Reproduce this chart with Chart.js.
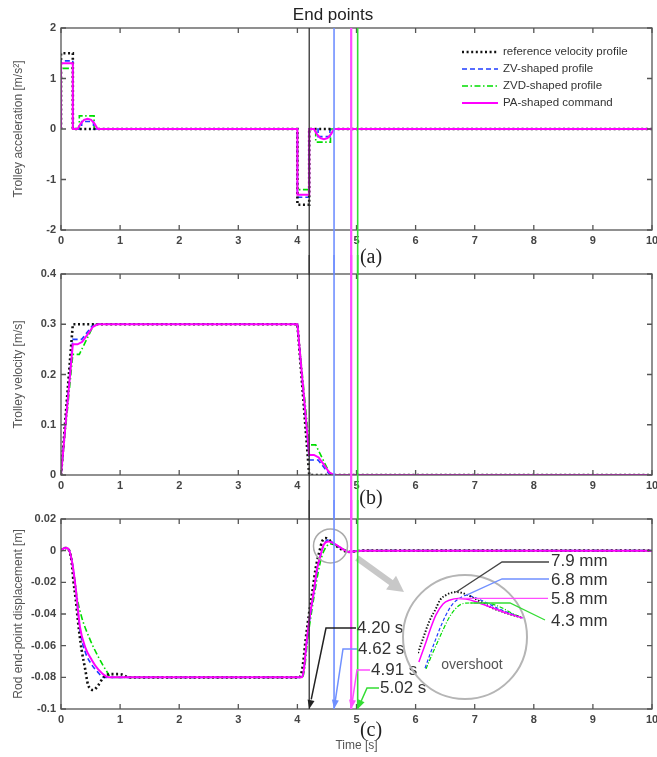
<!DOCTYPE html>
<html>
<head>
<meta charset="utf-8">
<script src="https://cdn.jsdelivr.net/npm/chart.js@4.4.1/dist/chart.umd.min.js"></script>
<style>
  body { margin: 0; background: #fff; }
  #wrap { position: relative; width: 657px; height: 757px; overflow: hidden; background: #fff; }
  canvas { position: absolute; left: 0; }
</style>
</head>
<body>
<div id="wrap">
  <canvas id="accChart" width="657" height="275" style="top:0px"></canvas>
  <canvas id="velChart" width="657" height="265" style="top:255px"></canvas>
  <canvas id="dispChart" width="657" height="257" style="top:500px"></canvas>
  <canvas id="insetChart" width="220" height="160" style="top:545px;left:400px"></canvas>
</div>
<script>
// ticks
const timeTicks = [0, 1, 2, 3, 4, 5, 6, 7, 8, 9, 10];
const accTicks = [-2, -1, 0, 1, 2];
const velTicks = [0, 0.1, 0.2, 0.3, 0.4];
const dispTicks = [-0.1, -0.08, -0.06, -0.04, -0.02, 0, 0.02];

const seriesNames = ['reference velocity profile', 'ZV-shaped profile', 'ZVD-shaped profile', 'PA-shaped command'];

// (a) trolley acceleration [m/s^2]
const accRefT = [0, 0, 0.2, 0.2, 4.0, 4.0, 4.2, 4.2, 10];
const accRefV = [0, 1.5, 1.5, 0, 0, -1.5, -1.5, 0, 0];
const accZvT = [0, 0, 0.2, 0.2, 0.35, 0.35, 0.55, 0.55, 4.0, 4.0, 4.2, 4.2, 4.35, 4.35, 4.55, 4.55, 10];
const accZvV = [0, 1.35, 1.35, 0, 0, 0.15, 0.15, 0, 0, -1.35, -1.35, 0, 0, -0.15, -0.15, 0, 0];
const accZvdT = [0, 0, 0.2, 0.2, 0.31, 0.31, 0.56, 0.56, 4.0, 4.0, 4.2, 4.2, 4.31, 4.31, 4.56, 4.56, 10];
const accZvdV = [0, 1.2, 1.2, 0, 0, 0.26, 0.26, 0, 0, -1.2, -1.2, 0, 0, -0.26, -0.26, 0, 0];
const accPaT = [0, 0, 0.2, 0.2, 0.28, 0.33, 0.39, 0.45, 0.51, 0.57, 0.62, 4.0, 4.0, 4.2, 4.2, 4.28, 4.33, 4.39, 4.45, 4.51, 4.57, 4.62, 10];
const accPaV = [0, 1.3, 1.3, 0, 0, 0.1, 0.18, 0.2, 0.18, 0.1, 0, 0, -1.3, -1.3, 0, 0, -0.1, -0.18, -0.2, -0.18, -0.1, 0, 0];

// (b) trolley velocity [m/s]
const velRefT = [0, 0.2, 4.0, 4.2, 10];
const velRefV = [0, 0.3, 0.3, 0, 0];
const velZvT = [0, 0.2, 0.35, 0.55, 4.0, 4.2, 4.35, 4.55, 10];
const velZvV = [0, 0.27, 0.27, 0.3, 0.3, 0.03, 0.03, 0, 0];
const velZvdT = [0, 0.2, 0.31, 0.56, 4.0, 4.2, 4.31, 4.56, 10];
const velZvdV = [0, 0.24, 0.24, 0.3, 0.3, 0.06, 0.06, 0, 0];
const velPaT = [0, 0.2, 0.28, 0.36, 0.45, 0.54, 0.62, 4.0, 4.2, 4.28, 4.36, 4.45, 4.54, 4.62, 10];
const velPaV = [0, 0.26, 0.26, 0.265, 0.28, 0.295, 0.3, 0.3, 0.04, 0.04, 0.035, 0.02, 0.005, 0, 0];

// (c) rod end-point displacement [m]
const dispRefT = [0, 0.05, 0.1, 0.18, 0.21, 0.25, 0.28, 0.31, 0.35, 0.41, 0.46, 0.55, 0.63, 0.72, 0.83, 1.0, 1.15, 4.03, 4.07, 4.1, 4.14, 4.2, 4.26, 4.31, 4.37, 4.42, 4.48, 4.56, 4.66, 4.76, 4.86, 4.95, 5.1, 10];
const dispRefV = [0, 0.0015, 0.0017, -0.007, -0.019, -0.031, -0.042, -0.052, -0.063, -0.075, -0.085, -0.088, -0.085, -0.08, -0.078, -0.078, -0.08, -0.08, -0.077, -0.07, -0.056, -0.039, -0.024, -0.011, -0.001, 0.006, 0.0079, 0.006, 0.003, 0.0005, -0.0008, -0.0005, 0, 0];
const dispZvT = [0, 0.05, 0.1, 0.15, 0.2, 0.24, 0.27, 0.32, 0.41, 0.52, 0.63, 0.72, 0.85, 4.07, 4.11, 4.16, 4.22, 4.28, 4.33, 4.39, 4.45, 4.52, 4.6, 4.7, 4.8, 4.88, 4.96, 5.1, 10];
const dispZvV = [0, 0.0015, 0.0017, -0.001, -0.01, -0.021, -0.032, -0.05, -0.064, -0.072, -0.077, -0.08, -0.08, -0.08, -0.075, -0.057, -0.04, -0.026, -0.013, -0.003, 0.004, 0.0068, 0.005, 0.0025, 0.0002, -0.0008, -0.0004, 0, 0];
const dispZvdT = [0, 0.05, 0.1, 0.15, 0.2, 0.24, 0.27, 0.35, 0.49, 0.63, 0.77, 0.85, 4.08, 4.12, 4.17, 4.23, 4.29, 4.35, 4.41, 4.48, 4.56, 4.64, 4.72, 4.82, 4.9, 5.0, 5.1, 10];
const dispZvdV = [0, 0.0015, 0.0017, -0.001, -0.01, -0.02, -0.029, -0.042, -0.056, -0.067, -0.076, -0.08, -0.08, -0.075, -0.057, -0.041, -0.027, -0.014, -0.004, 0.002, 0.0043, 0.0035, 0.002, 0.0003, -0.0007, -0.0003, 0, 0];
const dispPaT = [0, 0.05, 0.1, 0.15, 0.2, 0.24, 0.27, 0.32, 0.41, 0.52, 0.63, 0.77, 0.85, 4.08, 4.11, 4.16, 4.22, 4.28, 4.33, 4.39, 4.45, 4.53, 4.62, 4.72, 4.8, 4.88, 4.96, 5.1, 10];
const dispPaV = [0, 0.0015, 0.0017, -0.001, -0.01, -0.021, -0.031, -0.048, -0.061, -0.069, -0.075, -0.0795, -0.08, -0.08, -0.075, -0.056, -0.039, -0.025, -0.012, -0.003, 0.004, 0.0058, 0.0045, 0.0022, 0.0003, -0.0008, -0.0004, 0, 0];

// overshoot close-up (time [s], displacement [mm])
const insRefT = [4.36, 4.38, 4.40, 4.42, 4.435, 4.455, 4.475, 4.49, 4.51, 4.55, 4.605, 4.66, 4.715];
const insRefV = [-12.1, -6.5, -1.3, 2.3, 5.3, 6.9, 7.7, 7.9, 7.6, 5.9, 3.0, 1.0, -0.6];
const insZvT = [4.384, 4.40, 4.418, 4.435, 4.455, 4.475, 4.50, 4.523, 4.547, 4.577, 4.622, 4.672, 4.715];
const insZvV = [-17.0, -12.7, -8.1, -3.9, 0.4, 3.65, 5.8, 6.8, 6.3, 5.1, 3.0, 0.9, -0.6];
const insZvdT = [4.387, 4.404, 4.425, 4.445, 4.465, 4.486, 4.509, 4.537, 4.571, 4.605, 4.639, 4.679, 4.715];
const insZvdV = [-17.3, -13.4, -8.8, -4.5, -0.6, 2.3, 4.0, 4.3, 4.3, 4.1, 3.0, 1.0, -0.6];
const insPaT = [4.363, 4.384, 4.401, 4.421, 4.445, 4.469, 4.496, 4.523, 4.554, 4.605, 4.662, 4.715];
const insPaV = [-15.0, -9.4, -4.5, 0.4, 4.0, 5.3, 5.8, 5.6, 4.8, 3.0, 1.0, -0.6];

// end points [s]: reference, ZV, PA, ZVD
const endTimes = [4.20, 4.62, 4.91, 5.02];

const lineStyles = [
    { color: '#111111', width: 2.6, dash: [2, 2.6], order: 2 },
    { color: '#1f3dff', width: 1.6, dash: [5, 3], order: 3 },
    { color: '#00dd00', width: 1.6, dash: [6, 2.5, 1.5, 2.5], order: 4 },
    { color: '#ff00ff', width: 2, dash: [], order: 1 }
];
// lighter tones used for the annotation lines (series order)
const lightColors = ['#444444', '#7090ff', '#33dd33', '#ff4dff'];
// end point lines follow the order of endTimes
const endColors = ['#333333', '#7090ff', '#ff4dff', '#33dd33'];
const endWidths = [1.3, 1.6, 2.2, 1.6];

Chart.defaults.font.family = '"Liberation Sans", Arial, sans-serif';

function fmt(v) {
    return String(Number(Number(v).toFixed(2)));
}

function buildSets(tArrs, vArrs, smooth, thin) {
    return tArrs.map(function (ts, i) {
        const st = lineStyles[i];
        return {
            label: seriesNames[i],
            data: ts.map((t, k) => ({ x: t, y: vArrs[i][k] })),
            borderColor: st.color,
            borderWidth: thin ? st.width * 0.75 : st.width,
            borderDash: thin && st.dash.length ? st.dash.map(d => d * 0.7) : st.dash,
            order: st.order,
            pointRadius: 0,
            fill: false,
            tension: 0,
            cubicInterpolationMode: smooth ? 'monotone' : 'default'
        };
    });
}

function panelOptions(yTicks, yTitle, pad, xHeight, xTitle) {
    return {
        responsive: false,
        animation: false,
        events: [],
        layout: { padding: pad },
        plugins: { legend: { display: false }, tooltip: { enabled: false } },
        scales: {
            x: {
                type: 'linear',
                min: timeTicks[0],
                max: timeTicks[timeTicks.length - 1],
                grid: { display: false, drawTicks: false },
                border: { display: false },
                afterBuildTicks: s => { s.ticks = timeTicks.map(v => ({ value: v })); },
                afterFit: s => { s.height = xHeight; s.paddingLeft = 0; s.paddingRight = 0; },
                ticks: { padding: 4, color: '#444', font: { size: 11, weight: 'bold' }, maxRotation: 0, autoSkip: false, callback: fmt },
                title: xTitle ? { display: true, text: xTitle, color: '#555', font: { size: 12 }, padding: 0 } : { display: false }
            },
            y: {
                type: 'linear',
                min: yTicks[0],
                max: yTicks[yTicks.length - 1],
                grid: { display: false, drawTicks: false },
                border: { display: false },
                afterBuildTicks: s => { s.ticks = yTicks.map(v => ({ value: v })); },
                afterFit: s => { s.width = 61; s.paddingTop = 0; s.paddingBottom = 0; },
                ticks: { padding: 5, color: '#444', font: { size: 11, weight: 'bold' }, autoSkip: false, callback: fmt },
                title: { display: true, text: yTitle, color: '#555', font: { size: 12 }, padding: { top: 11, bottom: 0 } }
            }
        }
    };
}

function framePlugin(extra) {
    return {
        id: 'frame',
        afterDatasetsDraw(chart) {
            const ctx = chart.ctx, a = chart.chartArea, xs = chart.scales.x, ys = chart.scales.y;
            ctx.save();
            ctx.strokeStyle = '#555';
            ctx.lineWidth = 1.3;
            ctx.setLineDash([]);
            ctx.beginPath();
            xs.ticks.forEach(t => {
                const px = xs.getPixelForValue(t.value);
                ctx.moveTo(px, a.bottom); ctx.lineTo(px, a.bottom - 5);
                ctx.moveTo(px, a.top); ctx.lineTo(px, a.top + 5);
            });
            ys.ticks.forEach(t => {
                const py = ys.getPixelForValue(t.value);
                ctx.moveTo(a.left, py); ctx.lineTo(a.left + 5, py);
                ctx.moveTo(a.right, py); ctx.lineTo(a.right - 5, py);
            });
            ctx.stroke();
            ctx.strokeRect(a.left, a.top, a.right - a.left, a.bottom - a.top);
            ctx.restore();
            if (extra) {
                ctx.save();
                extra(chart, ctx, a);
                ctx.restore();
            }
        }
    };
}

function drawEndLines(chart, ctx, y0, y1) {
    const xs = chart.scales.x;
    endTimes.forEach(function (t, i) {
        const px = xs.getPixelForValue(t);
        ctx.strokeStyle = endColors[i];
        ctx.lineWidth = endWidths[i];
        ctx.setLineDash([]);
        ctx.beginPath();
        ctx.moveTo(px, y0);
        ctx.lineTo(px, y1);
        ctx.stroke();
    });
}

function arrowHead(ctx, x0, y0, x1, y1, len, w, color) {
    const ang = Math.atan2(y1 - y0, x1 - x0);
    const bx = x1 - len * Math.cos(ang), by = y1 - len * Math.sin(ang);
    ctx.fillStyle = color;
    ctx.beginPath();
    ctx.moveTo(x1, y1);
    ctx.lineTo(bx + w / 2 * Math.sin(ang), by - w / 2 * Math.cos(ang));
    ctx.lineTo(bx - w / 2 * Math.sin(ang), by + w / 2 * Math.cos(ang));
    ctx.closePath();
    ctx.fill();
}

function panelLabel(ctx, text, x, y) {
    ctx.fillStyle = '#222';
    ctx.font = '20px "Liberation Serif", "Times New Roman", serif';
    ctx.textAlign = 'center';
    ctx.textBaseline = 'middle';
    ctx.fillText(text, x, y);
}

// (a)
new Chart(document.getElementById('accChart'), {
    type: 'line',
    data: { datasets: buildSets([accRefT, accZvT, accZvdT, accPaT], [accRefV, accZvV, accZvdV, accPaV], false) },
    options: panelOptions(accTicks, 'Trolley acceleration [m/s²]', { top: 28, bottom: 25, left: 0, right: 5 }, 20, null),
    plugins: [framePlugin(function (chart, ctx, a) {
        drawEndLines(chart, ctx, a.top, chart.height);
        // legend
        ctx.font = '11.5px "Liberation Sans", Arial, sans-serif';
        ctx.textAlign = 'left';
        ctx.textBaseline = 'middle';
        seriesNames.forEach(function (name, i) {
            const y = 52 + i * 17;
            const st = lineStyles[i];
            ctx.strokeStyle = st.color;
            ctx.lineWidth = st.width;
            ctx.setLineDash(st.dash);
            ctx.beginPath();
            ctx.moveTo(462, y);
            ctx.lineTo(498, y);
            ctx.stroke();
            ctx.fillStyle = '#333';
            ctx.fillText(name, 503, y);
        });
        ctx.setLineDash([]);
        ctx.fillStyle = '#222';
        ctx.font = '17px "Liberation Sans", Arial, sans-serif';
        ctx.textAlign = 'center';
        ctx.fillText('End points', 333, 15);
        panelLabel(ctx, '(a)', 371, 258);
    })]
});

// (b)
new Chart(document.getElementById('velChart'), {
    type: 'line',
    data: { datasets: buildSets([velRefT, velZvT, velZvdT, velPaT], [velRefV, velZvV, velZvdV, velPaV], false) },
    options: panelOptions(velTicks, 'Trolley velocity [m/s]', { top: 19, bottom: 25, left: 0, right: 5 }, 20, null),
    plugins: [framePlugin(function (chart, ctx, a) {
        drawEndLines(chart, ctx, 0, chart.height);
        panelLabel(ctx, '(b)', 371, 244);
    })]
});

// (c)
const dispTop = 500;
const endLeaders = [[326, 628, 357], [343, 649, 358], [357, 670, 371], [367, 688, 380]];
new Chart(document.getElementById('dispChart'), {
    type: 'line',
    data: { datasets: buildSets([dispRefT, dispZvT, dispZvdT, dispPaT], [dispRefV, dispZvV, dispZvdV, dispPaV], true) },
    options: panelOptions(dispTicks, 'Rod end-point displacement [m]', { top: 19, bottom: 4, left: 0, right: 5 }, 44, 'Time [s]'),
    plugins: [framePlugin(function (chart, ctx, a) {
        const xs = chart.scales.x, ys = chart.scales.y;
        // zoom marker around the overshoot
        ctx.strokeStyle = '#aaaaaa';
        ctx.lineWidth = 1.5;
        ctx.beginPath();
        ctx.arc(xs.getPixelForValue(4.56), ys.getPixelForValue(0.003), 17, 0, Math.PI * 2);
        ctx.stroke();
        ctx.strokeStyle = '#c8c8c8';
        ctx.lineWidth = 6;
        ctx.beginPath();
        ctx.moveTo(357, 558 - dispTop);
        ctx.lineTo(393, 584 - dispTop);
        ctx.stroke();
        arrowHead(ctx, 357, 558 - dispTop, 404, 592 - dispTop, 16, 17, '#c8c8c8');

        drawEndLines(chart, ctx, 0, a.bottom);
        ctx.font = '17px "Liberation Sans", Arial, sans-serif';
        ctx.textAlign = 'left';
        ctx.textBaseline = 'middle';
        endTimes.forEach(function (t, i) {
            const tipX = xs.getPixelForValue(t);
            const bx = endLeaders[i][0], by = endLeaders[i][1] - dispTop, tx = endLeaders[i][2];
            const col = i === 0 ? '#222' : endColors[i];
            ctx.strokeStyle = col;
            ctx.lineWidth = 1.5;
            ctx.beginPath();
            ctx.moveTo(tx - 1, by);
            ctx.lineTo(bx, by);
            ctx.lineTo(tipX + (bx - tipX) * 0.12, a.bottom - (a.bottom - by) * 0.12);
            ctx.stroke();
            arrowHead(ctx, bx, by, tipX, a.bottom, 9, 7, col);
            ctx.fillStyle = '#333';
            ctx.fillText(t.toFixed(2) + ' s', tx, by);
        });
        panelLabel(ctx, '(c)', 371, 231);
    })]
});

// overshoot close-up
const insetLeft = 400, insetTop = 545;
// leader bends for the mm labels (series order: reference, ZV, ZVD, PA)
const mmLeaders = [
    [[502, 562], [549, 562]],
    [[502, 579], [549, 579]],
    [[510, 603], [545, 620]],
    [[548, null]]
];
const mmTextY = [561, 580, 621, 599];
new Chart(document.getElementById('insetChart'), {
    type: 'line',
    data: { datasets: buildSets([insRefT, insZvT, insZvdT, insPaT], [insRefV, insZvV, insZvdV, insPaV], true, true) },
    options: {
        responsive: false,
        animation: false,
        events: [],
        layout: { padding: { left: 18, top: 40, right: 96, bottom: 36 } },
        plugins: { legend: { display: false }, tooltip: { enabled: false } },
        scales: {
            x: { type: 'linear', display: false, min: 4.36, max: 4.72 },
            y: { type: 'linear', display: false, min: -17.3, max: 10.2 }
        }
    },
    plugins: [{
        id: 'insetDeco',
        afterDatasetsDraw(chart) {
            const ctx = chart.ctx, xs = chart.scales.x, ys = chart.scales.y;
            ctx.save();
            ctx.strokeStyle = '#b5b5b5';
            ctx.lineWidth = 2;
            ctx.beginPath();
            ctx.arc(465 - insetLeft, 637 - insetTop, 62, 0, Math.PI * 2);
            ctx.stroke();
            ctx.fillStyle = '#555';
            ctx.font = '14px "Liberation Sans", Arial, sans-serif';
            ctx.textAlign = 'center';
            ctx.textBaseline = 'middle';
            ctx.fillText('overshoot', 472 - insetLeft, 665 - insetTop);

            const tArrs = [insRefT, insZvT, insZvdT, insPaT];
            const vArrs = [insRefV, insZvV, insZvdV, insPaV];
            ctx.font = '17px "Liberation Sans", Arial, sans-serif';
            ctx.textAlign = 'left';
            vArrs.forEach(function (vs, i) {
                const peak = Math.max.apply(null, vs);
                const k = vs.indexOf(peak);
                const px = xs.getPixelForValue(tArrs[i][k]);
                const py = ys.getPixelForValue(peak);
                ctx.strokeStyle = lightColors[i];
                ctx.lineWidth = 1.3;
                ctx.beginPath();
                ctx.moveTo(px, py);
                mmLeaders[i].forEach(function (p) {
                    ctx.lineTo(p[0] - insetLeft, p[1] === null ? py : p[1] - insetTop);
                });
                ctx.stroke();
                ctx.fillStyle = '#333';
                ctx.fillText(peak.toFixed(1) + ' mm', 551 - insetLeft, mmTextY[i] - insetTop);
            });
            ctx.restore();
        }
    }]
});
</script>
</body>
</html>
